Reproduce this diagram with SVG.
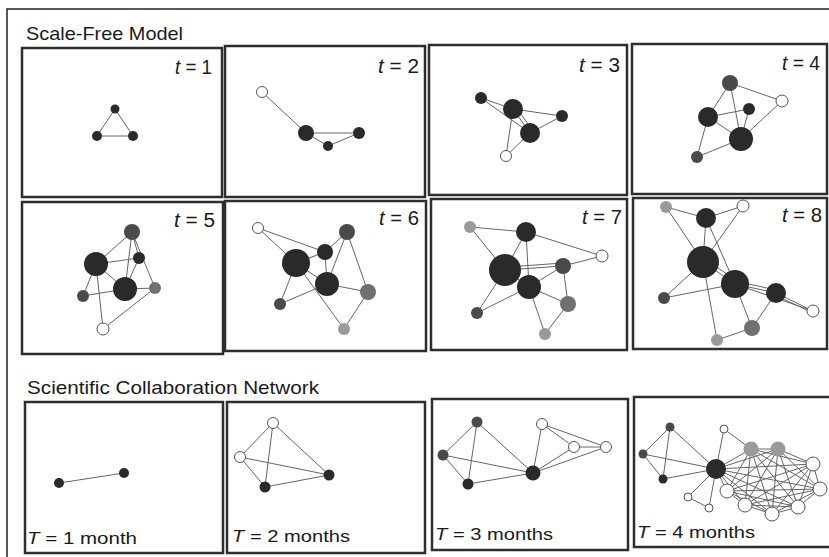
<svg xmlns="http://www.w3.org/2000/svg" width="829" height="557" viewBox="0 0 829 557">
<style>
.frame{fill:#fff;stroke:#2e2e2e;stroke-width:2.5}
.title{font-family:"Liberation Sans",Arial,sans-serif;font-size:18.5px;fill:#1a1a1a}
.lbl{font-family:"Liberation Sans",Arial,sans-serif;font-size:19.5px;fill:#1a1a1a}
.blbl{font-family:"Liberation Sans",Arial,sans-serif;font-size:17px;fill:#1a1a1a}
.it{font-style:italic}
.edges line{stroke:#666;stroke-width:1}
.d{fill:#2a2a2a}
.m{fill:#4a4a4a}
.g{fill:#707070}
.l{fill:#9a9a9a}
.o{fill:#fff;stroke:#555;stroke-width:1}
</style>
<rect x="0" y="0" width="829" height="557" fill="#fff"/>
<path d="M7 557 V9 H829" fill="none" stroke="#222" stroke-width="1.5"/>
<text class="title" x="26" y="40" textLength="157" lengthAdjust="spacingAndGlyphs">Scale-Free Model</text>
<text class="title" x="27" y="394" textLength="292" lengthAdjust="spacingAndGlyphs">Scientific Collaboration Network</text>

<!-- Panel 1 -->
<g id="p1">
<rect class="frame" x="22" y="48" width="200" height="149"/>
<text class="lbl" x="175" y="74" textLength="37" lengthAdjust="spacingAndGlyphs"><tspan class="it">t</tspan> = 1</text>
<g class="edges"><line x1="115" y1="109" x2="97" y2="136"/><line x1="115" y1="109" x2="133" y2="136"/><line x1="97" y1="136" x2="133" y2="136"/></g>
<circle class="d" cx="115" cy="109" r="4.5"/><circle class="d" cx="97" cy="136" r="5"/><circle class="d" cx="133" cy="136" r="5"/>
</g>

<!-- Panel 2 -->
<g id="p2">
<rect class="frame" x="225" y="46" width="200" height="151"/>
<text class="lbl" x="378" y="73" textLength="41" lengthAdjust="spacingAndGlyphs"><tspan class="it">t</tspan> = 2</text>
<g class="edges"><line x1="262" y1="92" x2="306" y2="133"/><line x1="306" y1="133" x2="359" y2="133"/><line x1="306" y1="133" x2="328" y2="146"/><line x1="328" y1="146" x2="359" y2="133"/></g>
<circle class="o" cx="262" cy="92" r="5.5"/><circle class="d" cx="306" cy="133" r="8"/><circle class="d" cx="359" cy="133" r="6"/><circle class="d" cx="328" cy="146" r="5"/>
</g>

<!-- Panel 3 -->
<g id="p3">
<rect class="frame" x="429" y="45" width="198" height="150"/>
<text class="lbl" x="579" y="72" textLength="41" lengthAdjust="spacingAndGlyphs"><tspan class="it">t</tspan> = 3</text>
<g class="edges"><line x1="481" y1="98" x2="513" y2="109"/><line x1="481" y1="98" x2="530" y2="133"/><line x1="513" y1="109" x2="530" y2="133"/><line x1="516" y1="107" x2="533" y2="131"/><line x1="513" y1="109" x2="562" y2="116"/><line x1="530" y1="133" x2="562" y2="116"/><line x1="513" y1="109" x2="506" y2="156"/><line x1="530" y1="133" x2="506" y2="156"/></g>
<circle class="d" cx="481" cy="98" r="6"/><circle class="d" cx="513" cy="109" r="10"/><circle class="d" cx="562" cy="116" r="6"/><circle class="d" cx="530" cy="133" r="10"/><circle class="o" cx="506" cy="156" r="5.5"/>
</g>

<!-- Panel 4 -->
<g id="p4">
<rect class="frame" x="632" y="44" width="195" height="150"/>
<text class="lbl" x="782" y="70" textLength="38" lengthAdjust="spacingAndGlyphs"><tspan class="it">t</tspan> = 4</text>
<g class="edges"><line x1="730" y1="83" x2="782" y2="101"/><line x1="730" y1="83" x2="708" y2="117"/><line x1="730" y1="83" x2="741" y2="139"/><line x1="708" y1="117" x2="749" y2="109"/><line x1="749" y1="109" x2="741" y2="139"/><line x1="708" y1="117" x2="741" y2="139"/><line x1="708" y1="117" x2="697" y2="157"/><line x1="697" y1="157" x2="741" y2="139"/><line x1="782" y1="101" x2="741" y2="139"/></g>
<circle class="m" cx="730" cy="83" r="8"/><circle class="o" cx="782" cy="101" r="6"/><circle class="d" cx="708" cy="117" r="10"/><circle class="d" cx="749" cy="109" r="6"/><circle class="d" cx="741" cy="139" r="12"/><circle class="m" cx="697" cy="157" r="6"/>
</g>

<!-- Panel 5 -->
<g id="p5">
<rect class="frame" x="22" y="202" width="201" height="152"/>
<text class="lbl" x="174" y="227" textLength="41" lengthAdjust="spacingAndGlyphs"><tspan class="it">t</tspan> = 5</text>
<g class="edges"><line x1="132" y1="232" x2="96" y2="264"/><line x1="132" y1="232" x2="139" y2="258"/><line x1="132" y1="232" x2="125" y2="289"/><line x1="132" y1="232" x2="155" y2="288"/><line x1="96" y1="264" x2="139" y2="258"/><line x1="96" y1="264" x2="125" y2="289"/><line x1="139" y1="258" x2="125" y2="289"/><line x1="96" y1="264" x2="83" y2="296"/><line x1="83" y1="296" x2="125" y2="289"/><line x1="125" y1="289" x2="155" y2="288"/><line x1="96" y1="264" x2="103" y2="329"/><line x1="155" y1="288" x2="103" y2="329"/></g>
<circle class="m" cx="132" cy="232" r="8"/><circle class="d" cx="96" cy="264" r="12"/><circle class="d" cx="139" cy="258" r="6"/><circle class="d" cx="125" cy="289" r="12"/><circle class="g" cx="155" cy="288" r="6"/><circle class="m" cx="83" cy="296" r="6"/><circle class="o" cx="103" cy="329" r="6"/>
</g>

<!-- Panel 6 -->
<g id="p6">
<rect class="frame" x="225" y="201" width="201" height="150"/>
<text class="lbl" x="379" y="225" textLength="40" lengthAdjust="spacingAndGlyphs"><tspan class="it">t</tspan> = 6</text>
<g class="edges"><line x1="258" y1="228" x2="296" y2="263"/><line x1="258" y1="228" x2="325" y2="252"/><line x1="296" y1="263" x2="325" y2="252"/><line x1="325" y1="252" x2="347" y2="232"/><line x1="296" y1="263" x2="327" y2="284"/><line x1="325" y1="252" x2="327" y2="284"/><line x1="347" y1="232" x2="327" y2="284"/><line x1="347" y1="232" x2="368" y2="292"/><line x1="327" y1="284" x2="368" y2="292"/><line x1="296" y1="263" x2="280" y2="304"/><line x1="280" y1="304" x2="327" y2="284"/><line x1="296" y1="263" x2="344" y2="329"/><line x1="368" y1="292" x2="344" y2="329"/></g>
<circle class="o" cx="258" cy="228" r="5.5"/><circle class="m" cx="347" cy="232" r="8"/><circle class="d" cx="325" cy="252" r="8"/><circle class="d" cx="296" cy="263" r="14"/><circle class="d" cx="327" cy="284" r="12"/><circle class="g" cx="368" cy="292" r="8"/><circle class="m" cx="280" cy="304" r="6"/><circle class="l" cx="344" cy="329" r="6"/>
</g>

<!-- Panel 7 -->
<g id="p7">
<rect class="frame" x="431" y="199" width="196" height="151"/>
<text class="lbl" x="582" y="224" textLength="40" lengthAdjust="spacingAndGlyphs"><tspan class="it">t</tspan> = 7</text>
<g class="edges"><line x1="470" y1="227" x2="526" y2="232"/><line x1="470" y1="227" x2="505" y2="270"/><line x1="526" y1="232" x2="505" y2="270"/><line x1="526" y1="232" x2="529" y2="287"/><line x1="526" y1="232" x2="602" y2="256"/><line x1="505" y1="270" x2="563" y2="266"/><line x1="507" y1="267" x2="563" y2="263"/><line x1="563" y1="266" x2="602" y2="256"/><line x1="505" y1="270" x2="529" y2="287"/><line x1="529" y1="287" x2="563" y2="266"/><line x1="529" y1="287" x2="568" y2="304"/><line x1="563" y1="266" x2="568" y2="304"/><line x1="505" y1="270" x2="477" y2="313"/><line x1="477" y1="313" x2="529" y2="287"/><line x1="529" y1="287" x2="545" y2="334"/><line x1="568" y1="304" x2="545" y2="334"/></g>
<circle class="l" cx="470" cy="227" r="6"/><circle class="d" cx="526" cy="232" r="10"/><circle class="o" cx="602" cy="256" r="6"/><circle class="d" cx="505" cy="270" r="16"/><circle class="m" cx="563" cy="266" r="8"/><circle class="d" cx="529" cy="287" r="12"/><circle class="g" cx="568" cy="304" r="8"/><circle class="m" cx="477" cy="313" r="6"/><circle class="l" cx="545" cy="334" r="6"/>
</g>

<!-- Panel 8 -->
<g id="p8">
<rect class="frame" x="633" y="198" width="194" height="151"/>
<text class="lbl" x="782" y="222" textLength="40" lengthAdjust="spacingAndGlyphs"><tspan class="it">t</tspan> = 8</text>
<g class="edges"><line x1="666" y1="207" x2="706" y2="218"/><line x1="666" y1="207" x2="703" y2="262"/><line x1="743" y1="206" x2="706" y2="218"/><line x1="706" y1="218" x2="703" y2="262"/><line x1="743" y1="206" x2="703" y2="262"/><line x1="706" y1="218" x2="735" y2="284"/><line x1="703" y1="262" x2="735" y2="284"/><line x1="705" y1="259" x2="737" y2="281"/><line x1="735" y1="284" x2="776" y2="293"/><line x1="735" y1="281" x2="776" y2="290"/><line x1="776" y1="293" x2="813" y2="311"/><line x1="777" y1="296" x2="813" y2="313"/><line x1="735" y1="284" x2="813" y2="311"/><line x1="703" y1="262" x2="664" y2="298"/><line x1="664" y1="298" x2="735" y2="284"/><line x1="703" y1="262" x2="717" y2="340"/><line x1="735" y1="284" x2="752" y2="328"/><line x1="776" y1="293" x2="752" y2="328"/><line x1="752" y1="328" x2="717" y2="340"/></g>
<circle class="l" cx="666" cy="207" r="6"/><circle class="o" cx="743" cy="206" r="6"/><circle class="d" cx="706" cy="218" r="10"/><circle class="d" cx="703" cy="262" r="16"/><circle class="d" cx="735" cy="284" r="14"/><circle class="d" cx="776" cy="293" r="10"/><circle class="o" cx="813" cy="311" r="6"/><circle class="m" cx="664" cy="298" r="6"/><circle class="g" cx="752" cy="328" r="8"/><circle class="l" cx="717" cy="340" r="6"/>
</g>

<!-- Panel 9 -->
<g id="p9">
<rect class="frame" x="25" y="402" width="198" height="151"/>
<text class="blbl" x="27" y="544" textLength="110" lengthAdjust="spacingAndGlyphs"><tspan class="it">T</tspan> = 1 month</text>
<g class="edges"><line x1="59" y1="483" x2="124" y2="473"/></g>
<circle class="d" cx="59" cy="483" r="5"/><circle class="d" cx="124" cy="473" r="5"/>
</g>

<!-- Panel 10 -->
<g id="p10">
<rect class="frame" x="227" y="402" width="198" height="151"/>
<text class="blbl" x="232" y="542" textLength="118" lengthAdjust="spacingAndGlyphs"><tspan class="it">T</tspan> = 2 months</text>
<g class="edges"><line x1="273" y1="423" x2="240" y2="457"/><line x1="273" y1="423" x2="265" y2="487"/><line x1="273" y1="423" x2="329" y2="475"/><line x1="240" y1="457" x2="265" y2="487"/><line x1="240" y1="457" x2="329" y2="475"/><line x1="265" y1="487" x2="329" y2="475"/></g>
<circle class="o" cx="273" cy="423" r="5.5"/><circle class="o" cx="240" cy="457" r="5.5"/><circle class="d" cx="265" cy="487" r="5.5"/><circle class="d" cx="329" cy="475" r="5.5"/>
</g>

<!-- Panel 11 -->
<g id="p11">
<rect class="frame" x="432" y="399" width="196" height="151"/>
<text class="blbl" x="435" y="540" textLength="118" lengthAdjust="spacingAndGlyphs"><tspan class="it">T</tspan> = 3 months</text>
<g class="edges"><line x1="477" y1="422" x2="443" y2="455"/><line x1="477" y1="422" x2="468" y2="484"/><line x1="477" y1="422" x2="533" y2="473"/><line x1="443" y1="455" x2="533" y2="473"/><line x1="443" y1="455" x2="468" y2="484"/><line x1="468" y1="484" x2="533" y2="473"/><line x1="533" y1="473" x2="542" y2="424"/><line x1="533" y1="473" x2="574" y2="447"/><line x1="533" y1="473" x2="606" y2="447"/><line x1="542" y1="424" x2="574" y2="447"/><line x1="542" y1="424" x2="606" y2="447"/><line x1="574" y1="447" x2="606" y2="447"/></g>
<circle class="m" cx="477" cy="422" r="5.5"/><circle class="m" cx="443" cy="455" r="5.5"/><circle class="d" cx="468" cy="484" r="5.5"/><circle class="d" cx="533" cy="473" r="7.5"/><circle class="o" cx="542" cy="424" r="5.5"/><circle class="o" cx="574" cy="447" r="5.5"/><circle class="o" cx="606" cy="447" r="5.5"/>
</g>

<!-- Panel 12 -->
<g id="p12">
<rect class="frame" x="634" y="397" width="197" height="150"/>
<text class="blbl" x="637" y="538" textLength="118" lengthAdjust="spacingAndGlyphs"><tspan class="it">T</tspan> = 4 months</text>
<g class="edges">
<line x1="670" y1="427" x2="643" y2="454"/><line x1="670" y1="427" x2="663" y2="479"/><line x1="670" y1="427" x2="716" y2="469"/><line x1="643" y1="454" x2="716" y2="469"/><line x1="643" y1="454" x2="663" y2="479"/><line x1="663" y1="479" x2="716" y2="469"/>
<line x1="716" y1="469" x2="724" y2="429"/><line x1="724" y1="429" x2="751" y2="449"/><line x1="716" y1="469" x2="688" y2="497"/><line x1="688" y1="497" x2="709" y2="508"/><line x1="716" y1="469" x2="709" y2="508"/>
<line x1="716" y1="469" x2="751" y2="449"/><line x1="716" y1="469" x2="778" y2="449"/><line x1="716" y1="469" x2="813" y2="464"/><line x1="716" y1="469" x2="820" y2="489"/><line x1="716" y1="469" x2="798" y2="507"/><line x1="716" y1="469" x2="772" y2="514"/><line x1="716" y1="469" x2="745" y2="505"/><line x1="716" y1="469" x2="727" y2="491"/>
<line x1="751" y1="449" x2="778" y2="449"/><line x1="751" y1="449" x2="813" y2="464"/><line x1="751" y1="449" x2="820" y2="489"/><line x1="751" y1="449" x2="798" y2="507"/><line x1="751" y1="449" x2="772" y2="514"/><line x1="751" y1="449" x2="745" y2="505"/><line x1="751" y1="449" x2="727" y2="491"/>
<line x1="778" y1="449" x2="813" y2="464"/><line x1="778" y1="449" x2="820" y2="489"/><line x1="778" y1="449" x2="798" y2="507"/><line x1="778" y1="449" x2="772" y2="514"/><line x1="778" y1="449" x2="745" y2="505"/><line x1="778" y1="449" x2="727" y2="491"/>
<line x1="813" y1="464" x2="820" y2="489"/><line x1="813" y1="464" x2="798" y2="507"/><line x1="813" y1="464" x2="772" y2="514"/><line x1="813" y1="464" x2="745" y2="505"/><line x1="813" y1="464" x2="727" y2="491"/>
<line x1="820" y1="489" x2="798" y2="507"/><line x1="820" y1="489" x2="772" y2="514"/><line x1="820" y1="489" x2="745" y2="505"/><line x1="820" y1="489" x2="727" y2="491"/>
<line x1="798" y1="507" x2="772" y2="514"/><line x1="798" y1="507" x2="745" y2="505"/><line x1="798" y1="507" x2="727" y2="491"/>
<line x1="772" y1="514" x2="745" y2="505"/><line x1="772" y1="514" x2="727" y2="491"/>
<line x1="745" y1="505" x2="727" y2="491"/>
</g>
<circle class="m" cx="670" cy="427" r="4.5"/><circle class="m" cx="643" cy="454" r="4.5"/><circle class="d" cx="663" cy="479" r="4.5"/><circle class="d" cx="716" cy="469" r="10"/>
<circle class="o" cx="724" cy="429" r="4"/><circle class="o" cx="688" cy="497" r="4"/><circle class="o" cx="709" cy="508" r="4"/>
<circle class="l" cx="751" cy="449" r="7.5"/><circle class="l" cx="778" cy="449" r="7.5"/>
<circle class="o" cx="813" cy="464" r="7"/><circle class="o" cx="820" cy="489" r="7"/><circle class="o" cx="798" cy="507" r="7"/><circle class="o" cx="772" cy="514" r="7"/><circle class="o" cx="745" cy="505" r="7"/><circle class="o" cx="727" cy="491" r="7"/>
</g>
</svg>
